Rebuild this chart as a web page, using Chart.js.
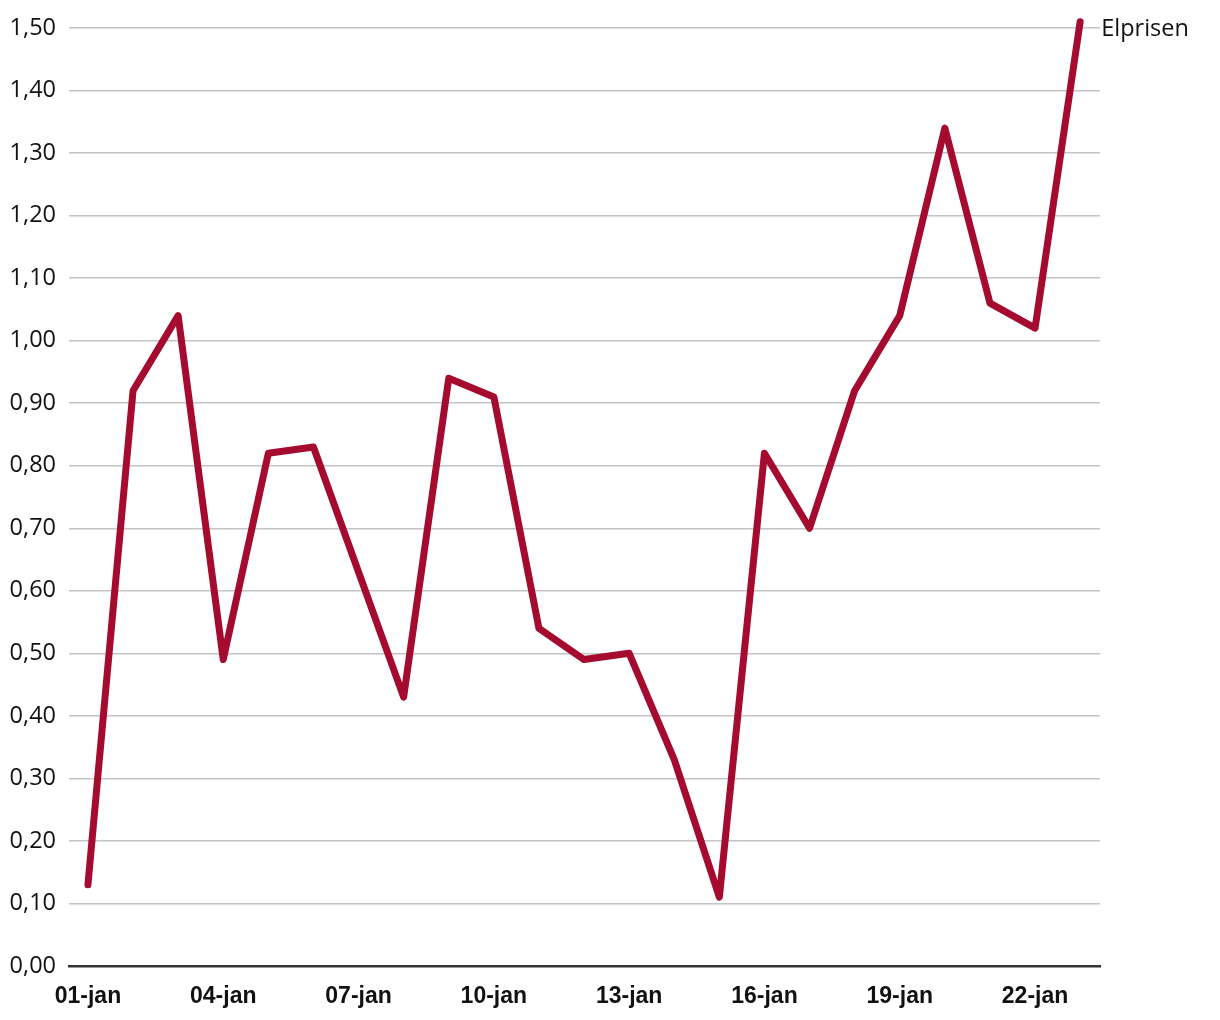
<!DOCTYPE html>
<html>
<head>
<meta charset="utf-8">
<script src="https://cdn.jsdelivr.net/npm/chart.js@4/dist/chart.umd.min.js"></script>
<style>
  html, body { margin: 0; padding: 0; background: #fff; }
  #wrap { width: 1220px; height: 1020px; }
</style>
</head>
<body>
<div id="wrap"><canvas id="priceChart" width="1220" height="1020"></canvas></div>
<script>
// days of January shown on the chart
const dayLabels = [
  "01-jan", "02-jan", "03-jan", "04-jan", "05-jan", "06-jan", "07-jan", "08-jan",
  "09-jan", "10-jan", "11-jan", "12-jan", "13-jan", "14-jan", "15-jan", "16-jan",
  "17-jan", "18-jan", "19-jan", "20-jan", "21-jan", "22-jan", "23-jan",
];
// price per day
const prices = [
  0.13, 0.92, 1.04, 0.49, 0.82, 0.83, 0.63, 0.43, 0.94, 0.91, 0.54, 0.49,
  0.50, 0.33, 0.11, 0.82, 0.70, 0.92, 1.04, 1.34, 1.06, 1.02, 1.51,
];
const seriesName = "Elprisen";
const xTickDays = [0, 3, 6, 9, 12, 15, 18, 21];

const lineColor = "#a50a2f";

// write the series name next to the last point
const endLabel = {
  id: "endLabel",
  afterDatasetsDraw(chart) {
    const meta = chart.getDatasetMeta(0);
    const last = meta.data[meta.data.length - 1];
    const ctx = chart.ctx;
    ctx.save();
    ctx.font = "23.5px 'Open Sans'";
    ctx.fillStyle = "#111";
    ctx.textAlign = "left";
    ctx.textBaseline = "middle";
    ctx.fillText(seriesName, last.x + 21, last.y + 8);
    ctx.restore();
  },
};

const ctx = document.getElementById("priceChart").getContext("2d");
new Chart(ctx, {
  type: "line",
  data: {
    datasets: [
      {
        label: seriesName,
        data: prices.map((p, i) => ({ x: i, y: p })),
        borderColor: lineColor,
        borderWidth: 7,
        borderCapStyle: "round",
        borderJoinStyle: "round",
        pointRadius: 0,
        tension: 0,
        fill: false,
        clip: false,
      },
    ],
  },
  options: {
    responsive: false,
    animation: false,
    layout: { padding: { top: 28, right: 120, bottom: 0, left: 0 } },
    plugins: {
      legend: { display: false },
      tooltip: { enabled: false },
    },
    scales: {
      x: {
        type: "linear",
        min: -0.42,
        max: 22.44,
        afterBuildTicks(scale) {
          scale.ticks = xTickDays.map((v) => ({ value: v }));
        },
        afterFit(scale) {
          scale.height = 54;
        },
        grid: { display: false, drawTicks: false },
        border: { display: true, color: "#333", width: 2.5 },
        ticks: {
          padding: 17,
          color: "#111",
          font: { family: "'Liberation Sans', Arial", size: 23, weight: "bold" },
          maxRotation: 0,
          autoSkip: false,
          callback: (v) => dayLabels[v],
        },
      },
      y: {
        min: 0,
        max: 1.5,
        afterFit(scale) {
          scale.width = 69;
        },
        grid: { color: "#c4c4c4", lineWidth: 1.5, drawTicks: false },
        border: { display: false },
        ticks: {
          stepSize: 0.1,
          padding: 13,
          color: "#111",
          font: { family: "'Open Sans'", size: 23.5 },
          callback: (v) => v.toFixed(2).replace(".", ","),
        },
      },
    },
  },
  plugins: [endLabel],
});
</script>
</body>
</html>
